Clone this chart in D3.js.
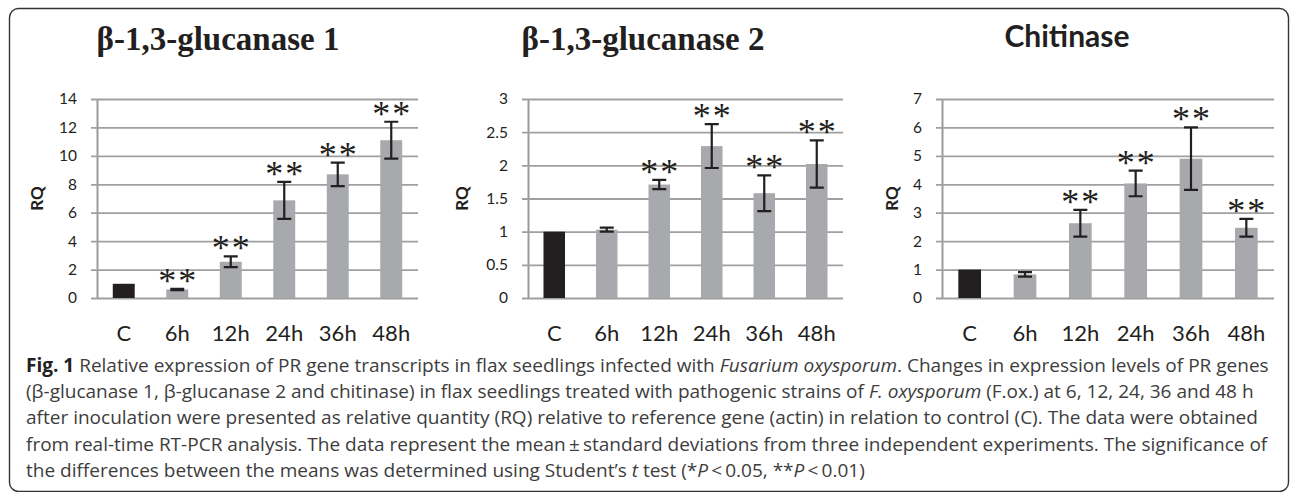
<!DOCTYPE html>
<html>
<head>
<meta charset="utf-8">
<script src="https://cdn.jsdelivr.net/npm/d3@7/dist/d3.min.js"></script>
<style>
  body { margin: 0; background: #fff; }
  svg { display: block; }
</style>
</head>
<body>
<svg></svg>
<script>
// The svg
let width = 1290;
let height = 492;
const svg = d3.select("svg").attr("width", width).attr("height", height);

// data
const categories = ["C", "6h", "12h", "24h", "36h", "48h"];
const titles = ["β-1,3-glucanase 1", "β-1,3-glucanase 2", "Chitinase"];

const glu1Mean = [1, 0.6, 2.55, 6.87, 8.7, 11.1];
const glu1Sd = [0, 0.04, 0.38, 1.3, 0.83, 1.3];
const glu1Sig = ["", "**", "**", "**", "**", "**"];
const glu1Ticks = [0, 2, 4, 6, 8, 10, 12, 14];

const glu2Mean = [1, 1.03, 1.71, 2.29, 1.58, 2.02];
const glu2Sd = [0, 0.03, 0.07, 0.33, 0.27, 0.355];
const glu2Sig = ["", "", "**", "**", "**", "**"];
const glu2Ticks = [0, 0.5, 1, 1.5, 2, 2.5, 3];

const chiMean = [1, 0.83, 2.63, 4.03, 4.9, 2.47];
const chiSd = [0, 0.08, 0.47, 0.45, 1.1, 0.31];
const chiSig = ["", "", "**", "**", "**", "**"];
const chiTicks = [0, 1, 2, 3, 4, 5, 6, 7];

const captionLines = [
    [["Fig. 1", "b"], [" Relative expression of PR gene transcripts in flax seedlings infected with ", ""], ["Fusarium oxysporum", "i"], [". Changes in expression levels of PR genes", ""]],
    [["(β-glucanase 1, β-glucanase 2 and chitinase) in flax seedlings treated with pathogenic strains of ", ""], ["F. oxysporum", "i"], [" (F.ox.) at 6, 12, 24, 36 and 48 h", ""]],
    [["after inoculation were presented as relative quantity (RQ) relative to reference gene (actin) in relation to control (C). The data were obtained", ""]],
    [["from real-time RT-PCR analysis. The data represent the mean\u2009±\u2009standard deviations from three independent experiments. The significance of", ""]],
    [["the differences between the means was determined using Student’s ", ""], ["t", "i"], [" test (*", ""], ["P", "i"], ["\u2009<\u20090.05, **", ""], ["P", "i"], ["\u2009<\u20090.01)", ""]]
];

// layout of the three panels
const panels = [
    { title: titles[0], mean: glu1Mean, sd: glu1Sd, sig: glu1Sig, ticks: glu1Ticks,
      x0: 97, x1: 418, titleX: 218, titleY: 50, serif: true, rqX: 37 },
    { title: titles[1], mean: glu2Mean, sd: glu2Sd, sig: glu2Sig, ticks: glu2Ticks,
      x0: 528, x1: 843, titleX: 643, titleY: 50, serif: true, rqX: 462 },
    { title: titles[2], mean: chiMean, sd: chiSd, sig: chiSig, ticks: chiTicks,
      x0: 942, x1: 1274, titleX: 1067, titleY: 47, serif: false, rqX: 892 }
];
const yBottom = 298, yTop = 99;
const sans = "Lato, 'Open Sans', sans-serif";

// frame
svg.append("rect")
    .attr("x", 9.5).attr("y", 8.5)
    .attr("width", 1279).attr("height", 483)
    .attr("rx", 9).attr("ry", 9)
    .attr("fill", "none")
    .attr("stroke", "#333")
    .attr("stroke-width", 1.4);

panels.forEach(function (p) {
    let g = svg.append("g");

    let x = d3.scaleBand().domain(categories).range([p.x0, p.x1])
        .paddingInner(0.59).paddingOuter(0.295);
    let y = d3.scaleLinear().domain([0, d3.max(p.ticks)]).range([yBottom, yTop]);

    // y axis with gridlines
    let yAxis = g.append("g")
        .attr("transform", "translate(" + p.x0 + ",0)")
        .call(d3.axisLeft(y).tickValues(p.ticks).tickFormat(d3.format("~g"))
            .tickSize(-(p.x1 - p.x0)).tickSizeOuter(0).tickPadding(20));
    yAxis.select(".domain").attr("stroke", "#9a9a9a").attr("stroke-width", 2);
    yAxis.selectAll(".tick line")
        .attr("x1", -6)
        .attr("stroke", "#9f9f9f").attr("stroke-width", 1.8);
    yAxis.selectAll(".tick text")
        .style("font-family", sans).style("font-size", "15.5px").attr("fill", "#231f20");

    // x axis labels
    let xAxis = g.append("g")
        .attr("transform", "translate(0," + yBottom + ")")
        .call(d3.axisBottom(x).tickSize(0).tickPadding(27));
    xAxis.select(".domain").remove();
    xAxis.selectAll(".tick text")
        .style("font-family", sans).style("font-size", "22px").attr("fill", "#231f20");

    // bars
    g.selectAll("rect.bar")
        .data(categories)
        .enter()
        .append("rect")
        .attr("class", "bar")
        .attr("x", function (d) { return x(d); })
        .attr("width", x.bandwidth())
        .attr("y", function (d, i) { return y(p.mean[i]); })
        .attr("height", function (d, i) { return yBottom - y(p.mean[i]); })
        .attr("fill", function (d, i) { return i == 0 ? "#231f20" : "#a7a9ac"; });

    // error bars
    let cap = 7;
    categories.forEach(function (c, i) {
        if (!p.sd[i]) return;
        let cx = x(c) + x.bandwidth() / 2;
        let hi = y(p.mean[i] + p.sd[i]), lo = y(p.mean[i] - p.sd[i]);
        let path = "M" + cx + "," + hi + "V" + lo +
            "M" + (cx - cap) + "," + hi + "H" + (cx + cap) +
            "M" + (cx - cap) + "," + lo + "H" + (cx + cap);
        g.append("path").attr("d", path)
            .attr("fill", "none").attr("stroke", "#231f20").attr("stroke-width", 2.2);
    });

    // significance stars
    categories.forEach(function (c, i) {
        if (!p.sig[i]) return;
        let cx = x(c) + x.bandwidth() / 2;
        let cy = y(p.mean[i] + p.sd[i]) - 13;
        [-10, 10].forEach(function (dx) {
            g.append("text")
                .attr("x", cx + dx).attr("y", cy + 17)
                .attr("text-anchor", "middle")
                .style("font-family", "'Liberation Serif', serif")
                .style("font-size", "36px")
                .attr("fill", "#231f20")
                .text("*");
        });
    });

    // RQ label
    g.append("text")
        .attr("transform", "translate(" + (p.rqX + 6) + "," + ((yBottom + yTop) / 2) + ") rotate(-90)")
        .attr("text-anchor", "middle")
        .style("font-family", sans).style("font-size", "17px").style("font-weight", "bold")
        .attr("fill", "#231f20")
        .text("RQ");

    // title
    g.append("text")
        .attr("x", p.titleX).attr("y", p.titleY)
        .attr("text-anchor", "middle")
        .style("font-family", p.serif ? "'Liberation Serif', 'Times New Roman', serif" : sans)
        .style("font-size", p.serif ? "33px" : "30px")
        .style("font-weight", "bold")
        .attr("fill", "#231f20")
        .text(p.title);
});

// caption
let caption = svg.append("g")
    .style("font-family", "'Open Sans', sans-serif")
    .attr("fill", "#3d3d3d");
let lineTexts = captionLines.map(function (parts, k) {
    let t = caption.append("text")
        .attr("x", 26)
        .attr("y", 372 + k * 26.2)
        .style("font-size", "20px");
    parts.forEach(function (part) {
        let s = t.append("tspan").text(part[0]);
        if (part[1] == "b") s.style("font-weight", "bold").attr("fill", "#222");
        if (part[1] == "i") s.style("font-style", "italic");
    });
    return t;
});
// fit the first line to the width of the frame
let w0 = lineTexts[0].node().getComputedTextLength();
let fs = 20 * 1244 / w0;
lineTexts.forEach(function (t) { t.style("font-size", fs + "px"); });
</script>
</body>
</html>
